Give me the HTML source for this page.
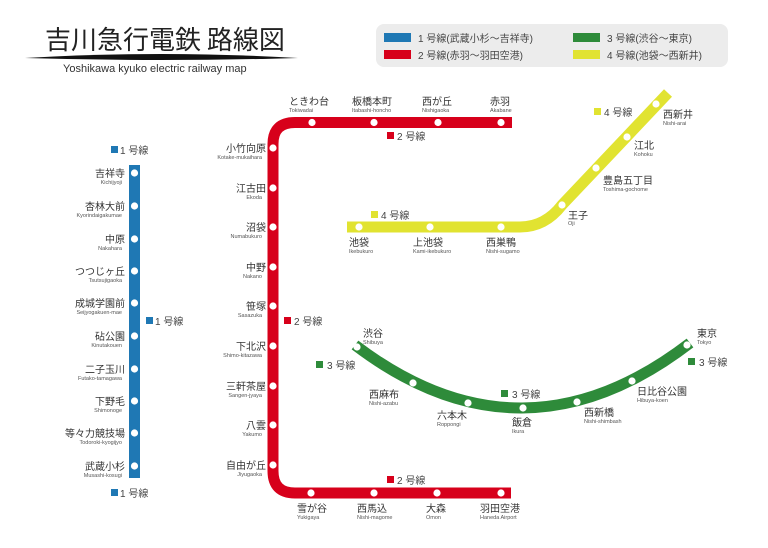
<!DOCTYPE html>
<html><head><meta charset="utf-8"><style>
html,body{margin:0;padding:0;background:#fff;}
svg{display:block;font-family:"Liberation Sans","Noto Sans CJK JP",sans-serif;}
.j{font-size:10px;fill:#333;}
.r{font-size:5.5px;fill:#555;}
.m{font-size:10px;fill:#444;}
</style></head><body>
<svg width="768" height="548" viewBox="0 0 768 548" xmlns="http://www.w3.org/2000/svg">
<rect width="768" height="548" fill="#fff"/>
<!-- title -->
<text x="45" y="49" font-size="26" fill="#222" font-family="Noto Sans CJK JP,sans-serif">吉川急行電鉄 路線図</text>
<path d="M25 58 Q160 50 298 58 Q160 62 25 58Z" fill="#111"/>
<text x="63" y="72" font-size="11" fill="#333">Yoshikawa kyuko electric railway map</text>
<!-- legend -->
<rect x="376" y="24" width="352" height="43" rx="8" fill="#ececec"/>
<rect x="384" y="33" width="27" height="9" fill="#1f78b4"/>
<rect x="384" y="50" width="27" height="9" fill="#d7001b"/>
<rect x="573" y="33" width="27" height="9" fill="#2e8b3a"/>
<rect x="573" y="50" width="27" height="9" fill="#e1e331"/>
<text x="418" y="42" class="m">1 号線(武蔵小杉～吉祥寺)</text>
<text x="418" y="59" class="m">2 号線(赤羽～羽田空港)</text>
<text x="607" y="42" class="m">3 号線(渋谷～東京)</text>
<text x="607" y="59" class="m">4 号線(池袋～西新井)</text>
<!-- lines -->
<rect x="129" y="165" width="11" height="313" fill="#1f78b4"/>
<path d="M512 122.5 H295 Q273 122.5 273 144 V471 Q273 493 295 493 H511" fill="none" stroke="#d7001b" stroke-width="11"/>
<path d="M347 227 H520 Q545 227 562 205 L668 93" fill="none" stroke="#e1e331" stroke-width="11"/>
<path d="M355 345 Q522 472 690 343" fill="none" stroke="#2e8b3a" stroke-width="11"/>
<!-- station dots -->
<g fill="#fff">
<circle cx="134.5" cy="173" r="3.6"/><circle cx="134.5" cy="206" r="3.6"/><circle cx="134.5" cy="239" r="3.6"/><circle cx="134.5" cy="271" r="3.6"/><circle cx="134.5" cy="303" r="3.6"/><circle cx="134.5" cy="336" r="3.6"/><circle cx="134.5" cy="369" r="3.6"/><circle cx="134.5" cy="401" r="3.6"/><circle cx="134.5" cy="433" r="3.6"/><circle cx="134.5" cy="466" r="3.6"/>
<circle cx="273" cy="148" r="3.6"/><circle cx="273" cy="188" r="3.6"/><circle cx="273" cy="227" r="3.6"/><circle cx="273" cy="267" r="3.6"/><circle cx="273" cy="306" r="3.6"/><circle cx="273" cy="346" r="3.6"/><circle cx="273" cy="386" r="3.6"/><circle cx="273" cy="425" r="3.6"/><circle cx="273" cy="465" r="3.6"/>
<circle cx="312" cy="122.5" r="3.6"/><circle cx="374" cy="122.5" r="3.6"/><circle cx="438" cy="122.5" r="3.6"/><circle cx="501" cy="122.5" r="3.6"/>
<circle cx="311" cy="493" r="3.6"/><circle cx="374" cy="493" r="3.6"/><circle cx="437" cy="493" r="3.6"/><circle cx="501" cy="493" r="3.6"/>
<circle cx="359" cy="227" r="3.6"/><circle cx="430" cy="227" r="3.6"/><circle cx="501" cy="227" r="3.6"/><circle cx="562" cy="205" r="3.6"/><circle cx="596" cy="168" r="3.6"/><circle cx="627" cy="137" r="3.6"/><circle cx="656" cy="104" r="3.6"/>
<circle cx="357" cy="347" r="3.6"/><circle cx="413" cy="383" r="3.6"/><circle cx="468" cy="403" r="3.6"/><circle cx="523" cy="408" r="3.6"/><circle cx="577" cy="402" r="3.6"/><circle cx="632" cy="381" r="3.6"/><circle cx="687" cy="345" r="3.6"/>
</g>
<!-- line 1 labels -->
<g text-anchor="end">
<text x="125" y="177" class="j">吉祥寺</text><text x="122" y="184" class="r">Kichijyoji</text>
<text x="125" y="210" class="j">杏林大前</text><text x="122" y="217" class="r">Kyorindaigakumae</text>
<text x="125" y="243" class="j">中原</text><text x="122" y="250" class="r">Nakahara</text>
<text x="125" y="275" class="j">つつじヶ丘</text><text x="122" y="282" class="r">Tsutsujigaoka</text>
<text x="125" y="307" class="j">成城学園前</text><text x="122" y="314" class="r">Seijyogakuen-mae</text>
<text x="125" y="340" class="j">砧公園</text><text x="122" y="347" class="r">Kinutakouen</text>
<text x="125" y="373" class="j">二子玉川</text><text x="122" y="380" class="r">Futako-tamagawa</text>
<text x="125" y="405" class="j">下野毛</text><text x="122" y="412" class="r">Shimonoge</text>
<text x="125" y="437" class="j">等々力競技場</text><text x="122" y="444" class="r">Todoroki-kyogijyo</text>
<text x="125" y="470" class="j">武蔵小杉</text><text x="122" y="477" class="r">Musashi-kosugi</text>
<!-- line 2 vertical -->
<text x="266" y="152" class="j">小竹向原</text><text x="262" y="159" class="r">Kotake-mukaihara</text>
<text x="266" y="192" class="j">江古田</text><text x="262" y="199" class="r">Ekoda</text>
<text x="266" y="231" class="j">沼袋</text><text x="262" y="238" class="r">Numabukuro</text>
<text x="266" y="271" class="j">中野</text><text x="262" y="278" class="r">Nakano</text>
<text x="266" y="310" class="j">笹塚</text><text x="262" y="317" class="r">Sasazuka</text>
<text x="266" y="350" class="j">下北沢</text><text x="262" y="357" class="r">Shimo-kitazawa</text>
<text x="266" y="390" class="j">三軒茶屋</text><text x="262" y="397" class="r">Sangen-jyaya</text>
<text x="266" y="429" class="j">八雲</text><text x="262" y="436" class="r">Yakumo</text>
<text x="266" y="469" class="j">自由が丘</text><text x="262" y="476" class="r">Jiyugaoka</text>
</g>
<!-- line 2 top / bottom -->
<g>
<text x="289" y="105" class="j">ときわ台</text><text x="289" y="112" class="r">Tokiwadai</text>
<text x="352" y="105" class="j">板橋本町</text><text x="352" y="112" class="r">Itabashi-honcho</text>
<text x="422" y="105" class="j">西が丘</text><text x="422" y="112" class="r">Nishigaoka</text>
<text x="490" y="105" class="j">赤羽</text><text x="490" y="112" class="r">Akabane</text>
<text x="297" y="512" class="j">雪が谷</text><text x="297" y="519" class="r">Yukigaya</text>
<text x="357" y="512" class="j">西馬込</text><text x="357" y="519" class="r">Nishi-magome</text>
<text x="426" y="512" class="j">大森</text><text x="426" y="519" class="r">Omon</text>
<text x="480" y="512" class="j">羽田空港</text><text x="480" y="519" class="r">Haneda Airport</text>
<!-- line 4 -->
<text x="349" y="246" class="j">池袋</text><text x="349" y="253" class="r">Ikebukuro</text>
<text x="413" y="246" class="j">上池袋</text><text x="413" y="253" class="r">Kami-ikebukuro</text>
<text x="486" y="246" class="j">西巣鴨</text><text x="486" y="253" class="r">Nishi-sugamo</text>
<text x="568" y="219" class="j">王子</text><text x="568" y="225" class="r">Oji</text>
<text x="603" y="184" class="j">豊島五丁目</text><text x="603" y="191" class="r">Toshima-gochome</text>
<text x="634" y="149" class="j">江北</text><text x="634" y="156" class="r">Kohoku</text>
<text x="663" y="118" class="j">西新井</text><text x="663" y="125" class="r">Nishi-arai</text>
<!-- line 3 -->
<text x="363" y="337" class="j">渋谷</text><text x="363" y="344" class="r">Shibuya</text>
<text x="369" y="398" class="j">西麻布</text><text x="369" y="405" class="r">Nishi-azabu</text>
<text x="437" y="419" class="j">六本木</text><text x="437" y="426" class="r">Roppongi</text>
<text x="512" y="426" class="j">飯倉</text><text x="512" y="433" class="r">Ikura</text>
<text x="584" y="416" class="j">西新橋</text><text x="584" y="423" class="r">Nishi-shimbash</text>
<text x="637" y="395" class="j">日比谷公園</text><text x="637" y="402" class="r">Hibuya-koen</text>
<text x="697" y="337" class="j">東京</text><text x="697" y="344" class="r">Tokyo</text>
</g>
<!-- line markers -->
<g class="m">
<rect x="111" y="146" width="7" height="7" fill="#1f78b4"/><text x="120" y="154" class="m">1 号線</text>
<rect x="146" y="317" width="7" height="7" fill="#1f78b4"/><text x="155" y="325" class="m">1 号線</text>
<rect x="111" y="489" width="7" height="7" fill="#1f78b4"/><text x="120" y="497" class="m">1 号線</text>
<rect x="387" y="132" width="7" height="7" fill="#d7001b"/><text x="397" y="140" class="m">2 号線</text>
<rect x="284" y="317" width="7" height="7" fill="#d7001b"/><text x="294" y="325" class="m">2 号線</text>
<rect x="387" y="476" width="7" height="7" fill="#d7001b"/><text x="397" y="484" class="m">2 号線</text>
<rect x="594" y="108" width="7" height="7" fill="#e1e331"/><text x="604" y="116" class="m">4 号線</text>
<rect x="371" y="211" width="7" height="7" fill="#e1e331"/><text x="381" y="219" class="m">4 号線</text>
<rect x="316" y="361" width="7" height="7" fill="#2e8b3a"/><text x="327" y="369" class="m">3 号線</text>
<rect x="501" y="390" width="7" height="7" fill="#2e8b3a"/><text x="512" y="398" class="m">3 号線</text>
<rect x="688" y="358" width="7" height="7" fill="#2e8b3a"/><text x="699" y="366" class="m">3 号線</text>
</g>
</svg>
</body></html>
